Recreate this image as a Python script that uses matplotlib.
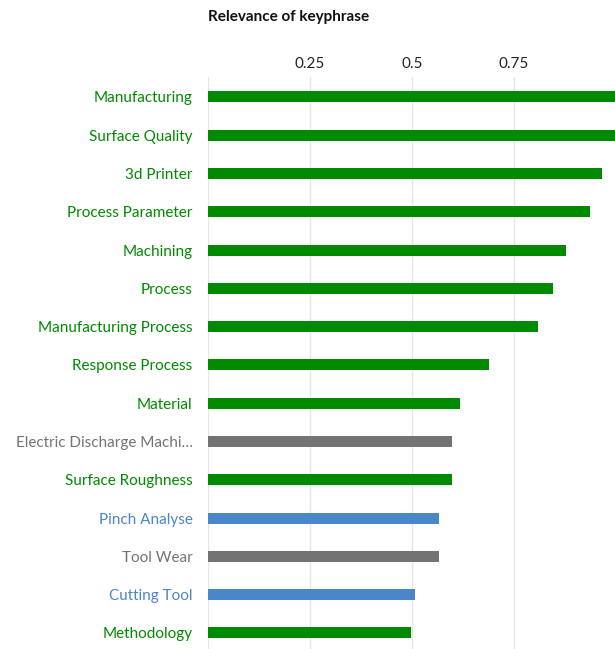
import numpy as np
import matplotlib.pyplot as plt

plt.rcParams['font.family'] = ['Lato', 'DejaVu Sans']

# keyphrases, top to bottom
labels = ["Manufacturing", "Surface Quality", "3d Printer", "Process Parameter",
          "Machining", "Process", "Manufacturing Process", "Response Process",
          "Material", "Electric Discharge Machi\u2026", "Surface Roughness",
          "Pinch Analyse", "Tool Wear", "Cutting Tool", "Methodology"]
values = [1.0, 1.0, 0.966, 0.936, 0.877, 0.846, 0.809, 0.689,
          0.618, 0.598, 0.598, 0.566, 0.566, 0.507, 0.498]
groups = ["g", "g", "g", "g", "g", "g", "g", "g",
          "g", "k", "g", "b", "k", "b", "g"]

colors = {"g": "#008a00", "k": "#737373", "b": "#4a86c8"}

fig = plt.figure(figsize=(6.15, 6.49), dpi=100)
ax = fig.add_axes([208 / 615, 0, 1 - 208 / 615, 1 - 77 / 649])

y = np.arange(len(labels))
bar_cols = [colors[g] for g in groups]
ax.barh(y, values, height=0.29, color=bar_cols, zorder=3)

ax.set_xlim(0, 0.998)
ax.set_ylim(len(labels) - 1 + 0.42, -0.52)

ax.set_xticks([0.25, 0.5, 0.75])
ax.set_xticklabels(["0.25", "0.5", "0.75"])
ax.xaxis.tick_top()
ax.tick_params(axis='x', length=0, pad=4, labelsize=11, labelcolor="#222222")
ax.grid(axis='x', color="#e6e6e6", linewidth=1, zorder=0)
ax.axvline(0, color="#e6e6e6", linewidth=1, zorder=0)

ax.set_yticks(y)
ax.set_yticklabels(labels)
ax.tick_params(axis='y', length=0, pad=11, labelsize=11)
for lbl, g in zip(ax.get_yticklabels(), groups):
    lbl.set_color(colors[g])

for s in ax.spines.values():
    s.set_visible(False)

fig.text(208 / 615, 1 - 17 / 649, "Relevance of keyphrase", fontsize=11,
         fontweight='bold', va='center', ha='left', color="#111111")

fig.savefig("out.png", dpi=100)
